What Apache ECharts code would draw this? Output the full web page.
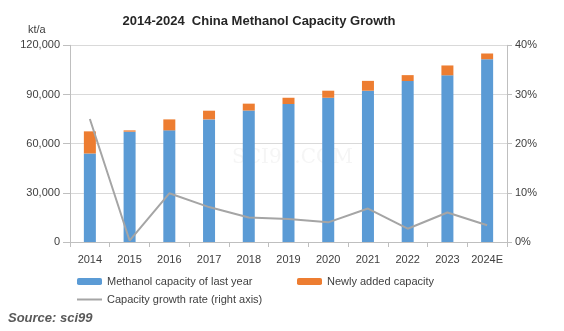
<!DOCTYPE html>
<html><head><meta charset="utf-8">
<script src="https://cdn.jsdelivr.net/npm/echarts@6/dist/echarts.min.js"></script>
<style>html,body{margin:0;padding:0;background:#fff;}#c{width:564px;height:331px;}</style>
</head><body><div id="c"></div>
<script>
const categories = ['2014','2015','2016','2017','2018','2019','2020','2021','2022','2023','2024E'];
const lastYearCapacity = [54000, 67300, 68100, 74800, 80200, 84200, 88000, 92300, 98200, 101700, 111500];
const newlyAdded = [13500, 800, 6700, 5300, 4200, 3800, 4300, 6000, 3600, 6000, 3500];
const growthRate = [25.0, 0.3, 9.9, 7.1, 5.0, 4.7, 4.0, 6.8, 2.7, 6.0, 3.4];
const leftTicks = [0, 30000, 60000, 90000, 120000];
const rightTicks = [0, 10, 20, 30, 40];

const font = 'Liberation Sans, Arial, sans-serif';
const chart = echarts.init(document.getElementById('c'), null, {renderer:'canvas'});
chart.setOption({
  animation:false,
  backgroundColor:'#fff',
  textStyle:{fontFamily:font},
  title:{text:'2014-2024  China Methanol Capacity Growth', left:254, textAlign:'center', top:10,
    textStyle:{fontSize:13, fontWeight:'bold', color:'#262626', fontFamily:font}},
  graphic:[
    {type:'text', left:28, top:24, style:{text:'kt/a', fontSize:11, fill:'#404040', fontFamily:font}},
    {type:'text', left:8, top:312, style:{text:'Source: sci99', fontSize:13, fontWeight:'bold', fontStyle:'italic', fill:'#595959', fontFamily:font}},
    {type:'text', left:232, top:148, z:0, style:{text:'SCI99.COM', fontSize:20, fill:'rgba(215,215,215,0.25)', fontFamily:'DejaVu Serif'}}
  ],
  grid:{left:70, right:57, top:45.3, bottom:89},
  legend:[
    {data:['Methanol capacity of last year'], left:72, top:271, itemWidth:25, itemHeight:7, itemGap:6,
      textStyle:{fontSize:11, color:'#404040', fontFamily:font}},
    {data:['Newly added capacity'], left:292, top:271, itemWidth:25, itemHeight:7,
      textStyle:{fontSize:11, color:'#404040', fontFamily:font}},
    {data:[{name:'Capacity growth rate (right axis)', icon:'rect', itemStyle:{color:'#A5A5A5'}}], left:72, top:289, itemWidth:25, itemHeight:2,
      textStyle:{fontSize:11, color:'#404040', fontFamily:font}}
  ],
  xAxis:{type:'category', data:categories,
    axisLine:{lineStyle:{color:'#bfbfbf'}},
    axisTick:{show:true, alignWithLabel:false, length:5, lineStyle:{color:'#bfbfbf'}},
    axisLabel:{interval:0, fontSize:11, color:'#404040', margin:12, fontFamily:font}},
  yAxis:[
    {type:'value', min:leftTicks[0], max:leftTicks[leftTicks.length-1], interval:30000,
      axisLine:{show:true, lineStyle:{color:'#bfbfbf'}},
      axisTick:{show:true, length:7, lineStyle:{color:'#bfbfbf'}},
      splitLine:{lineStyle:{color:'#d9d9d9'}},
      axisLabel:{fontSize:11, color:'#404040', margin:10, fontFamily:font,
        formatter:v=>v.toLocaleString('en-US')}},
    {type:'value', min:rightTicks[0], max:rightTicks[rightTicks.length-1], interval:10,
      axisLine:{show:true, lineStyle:{color:'#bfbfbf'}},
      axisTick:{show:true, length:5, lineStyle:{color:'#bfbfbf'}},
      splitLine:{show:false},
      axisLabel:{fontSize:11, color:'#404040', margin:8, fontFamily:font, formatter:'{value}%'}}
  ],
  series:[
    {name:'Methanol capacity of last year', type:'bar', stack:'cap', barWidth:12, data:lastYearCapacity,
      itemStyle:{color:'#5B9BD5'}},
    {name:'Newly added capacity', type:'bar', stack:'cap', barWidth:12, data:newlyAdded,
      itemStyle:{color:'#ED7D31'}},
    {name:'Capacity growth rate (right axis)', type:'line', yAxisIndex:1, data:growthRate,
      symbol:'none', lineStyle:{color:'#A5A5A5', width:2}, itemStyle:{color:'#A5A5A5'}, z:5}
  ]
});
</script></body></html>
